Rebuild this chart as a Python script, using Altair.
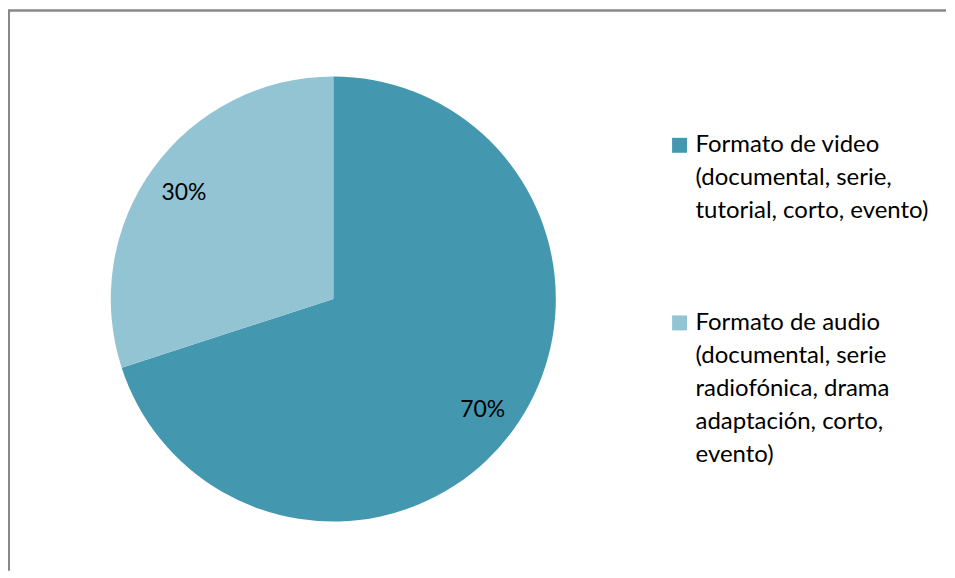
import altair as alt
import pandas as pd

categories = [
    "Formato de video|(documental, serie,|tutorial, corto, evento)",
    "Formato de audio|(documental, serie|radiofónica, drama|adaptación, corto,|evento)",
]
values = [70, 30]
labels = ["70%", "30%"]
colors = ["#4398B0", "#93C4D4"]

W, H = 939, 562

df = pd.DataFrame({"cat": categories, "val": values, "lab": labels})

base = alt.Chart(df).encode(
    theta=alt.Theta("val:Q", stack=True),
    order=alt.Order("val:Q", sort="descending"),
)

pie = base.mark_arc(outerRadius=223).encode(
    x=alt.value(325),
    y=alt.value(290),
    color=alt.Color(
        "cat:N",
        sort=categories,
        scale=alt.Scale(domain=categories, range=colors),
        legend=alt.Legend(
            title=None,
            orient="none",
            legendX=660,
            legendY=124,
            symbolType="square",
            symbolSize=225,
            symbolStrokeWidth=0,
            labelFont="Lato",
            labelFontSize=24,
            labelColor="#000000",
            labelLimit=400,
            labelBaseline="middle",
            labelOffset=4,
            labelExpr="split(datum.label, '|')",
            rowPadding=88,
            padding=0,
        ),
    ),
)

text = base.mark_text(radius=185, dy=3, font="Lato", fontSize=23, color="#000000").encode(
    x=alt.value(325),
    y=alt.value(290),
    text="lab:N",
)

frame_top = alt.Chart(df).mark_rule(color="#888888", strokeWidth=2).encode(
    x=alt.value(0), x2=alt.value(W), y=alt.value(1)
)
frame_left = alt.Chart(df).mark_rule(color="#888888", strokeWidth=2).encode(
    x=alt.value(0), y=alt.value(0), y2=alt.value(H)
)

chart = (
    alt.layer(pie, text, frame_top, frame_left)
    .properties(width=W, height=H, padding=0)
    .configure(background="white", style={"guide-label": {"lineHeight": 33}})
    .configure_view(stroke=None)
)

chart.save("out.html", embed_options={"renderer": "svg", "actions": False})
